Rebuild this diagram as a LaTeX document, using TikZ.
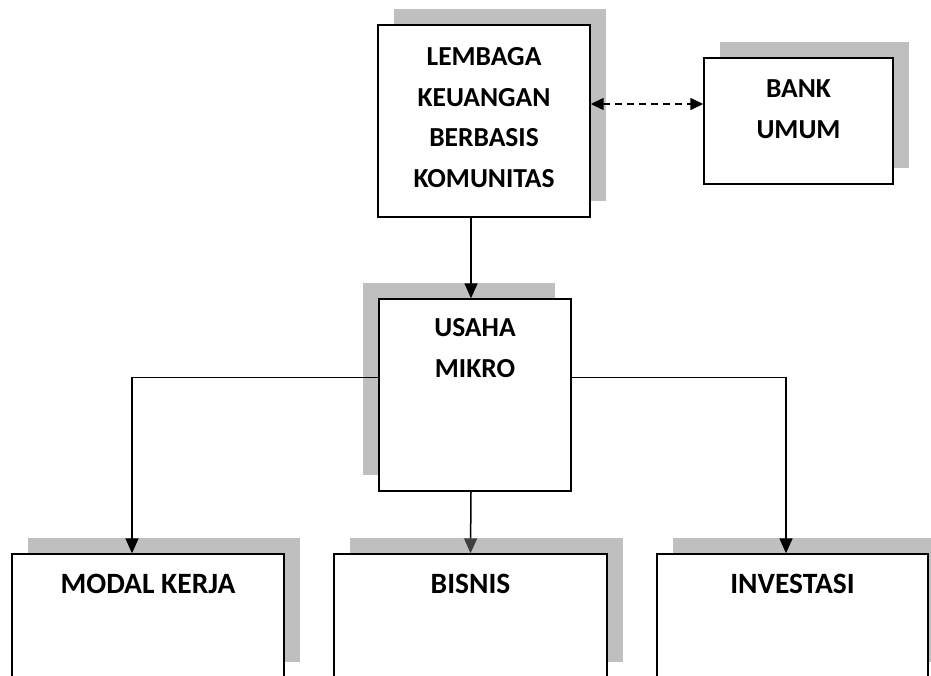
\documentclass[tikz,border=0pt]{standalone}
\usepackage{fontspec}
\setmainfont{Carlito}
\usetikzlibrary{arrows.meta,positioning,shadows}

\begin{document}
\begin{tikzpicture}[
    x=1pt, y=-1pt,
    box/.style={draw, fill=white, line width=1.4pt, inner sep=0pt},
    shadowr/.style={box, drop shadow={shadow xshift=16pt, shadow yshift=16pt,
        fill=black!25, opacity=1}},
    shadowl/.style={box, drop shadow={shadow xshift=-16pt, shadow yshift=16pt,
        fill=black!25, opacity=1}},
    txt/.style={font=\fontsize{27.5}{40.5}\selectfont\bfseries, align=center,
        inner sep=0pt, anchor=north},
    bigtxt/.style={txt, font=\fontsize{29.5}{40.5}\selectfont\bfseries},
    link/.style={line width=1pt},
    arrow/.style={-{Triangle[length=15pt, width=13pt]}, line width=1.5pt},
    duplex/.style={{Triangle[length=13pt, width=12pt]}-{Triangle[length=13pt, width=12pt]},
        line width=1.5pt, dash pattern=on 7pt off 5pt}
]
    \useasboundingbox (0,0) rectangle (931,675);
    \clip (0,0) rectangle (931,675);

    % top row
    \node[shadowr, minimum width=212pt, minimum height=192pt] (lkbk) at (484,121) {};
    \node[txt, below=23.3pt of lkbk.north] (lkbk_text)
        {LEMBAGA\\KEUANGAN\\BERBASIS\\KOMUNITAS};
    \node[shadowr, minimum width=189pt, minimum height=126pt] (bank) at (798.5,121) {};
    \node[txt, below=22.3pt of bank.north] (bank_text) {BANK\\UMUM};

    % middle
    \node[shadowl, minimum width=192pt, minimum height=192pt] (usaha) at (475,395) {};
    \node[txt, below=20.3pt of usaha.north] (usaha_text) {USAHA\\MIKRO};

    % bottom row
    \node[shadowr, minimum width=272pt, minimum height=124pt] (modal) at (148,616) {};
    \node[bigtxt, below=20.7pt of modal.north] (modal_text) {MODAL KERJA};
    \node[shadowr, minimum width=273pt, minimum height=124pt] (bisnis) at (470.5,616) {};
    \node[bigtxt, below=20.7pt of bisnis.north] (bisnis_text) {BISNIS};
    \node[shadowr, minimum width=271pt, minimum height=124pt] (invest) at (792.5,616) {};
    \node[bigtxt, below=20.7pt of invest.north] (invest_text) {INVESTASI};

    \draw[duplex] ([yshift=17pt]lkbk.east) -- ([yshift=17pt]bank.west);
    \draw[arrow] ([xshift=-13pt]lkbk.south) -- ([xshift=-4pt]usaha.north);

    \coordinate (lturn) at (132,377);
    \coordinate (rturn) at (786,377);
    \draw[link] ([yshift=18pt]usaha.west) -- (lturn);
    \draw[arrow] (lturn) -- ([xshift=-16pt]modal.north);
    \draw[link] ([yshift=18pt]usaha.east) -- (rturn);
    \draw[arrow] (rturn) -- ([xshift=-6.5pt]invest.north);
    \draw[arrow, -{Triangle[length=15pt, width=13pt, color=black!75]}]
        ([xshift=-4pt]usaha.south) -- (bisnis.north);
\end{tikzpicture}
\end{document}
